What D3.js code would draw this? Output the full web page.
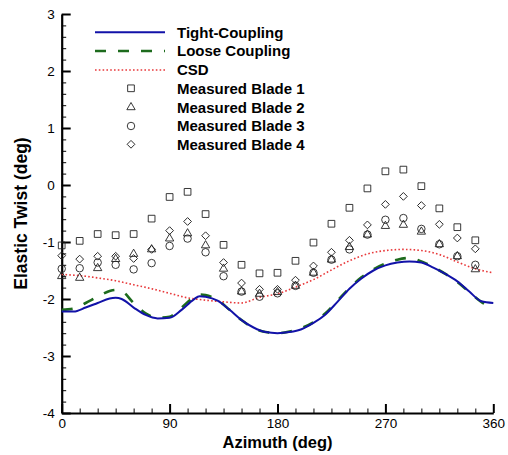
<!DOCTYPE html>
<html><head><meta charset="utf-8">
<script src="https://cdn.jsdelivr.net/npm/d3@7"></script>
<style>body{margin:0;background:#fff}svg{display:block}</style>
</head><body>
<script>
// ---- data ----
const measuredAzimuth = [0,15,30,45,60,75,90,105,120,135,150,165,180,195,210,225,240,255,270,285,300,315,330,345];
const blade1 = [-1.06,-0.98,-0.86,-0.88,-0.86,-0.59,-0.21,-0.12,-0.51,-1.05,-1.40,-1.55,-1.54,-1.33,-1.01,-0.68,-0.40,-0.06,0.24,0.27,-0.02,-0.41,-0.74,-0.97];
const blade2 = [-1.60,-1.63,-1.46,-1.30,-1.21,-1.13,-0.94,-0.85,-1.06,-1.47,-1.87,-1.91,-1.88,-1.77,-1.54,-1.31,-1.09,-0.87,-0.72,-0.70,-0.82,-1.04,-1.25,-1.48];
const blade3 = [-1.47,-1.46,-1.36,-1.40,-1.48,-1.37,-1.07,-0.94,-1.18,-1.60,-1.87,-1.96,-1.90,-1.77,-1.54,-1.31,-1.13,-0.87,-0.61,-0.58,-0.77,-1.04,-1.25,-1.40];
const blade4 = [-1.24,-1.30,-1.25,-1.25,-1.29,-1.13,-0.80,-0.64,-0.89,-1.36,-1.72,-1.83,-1.83,-1.67,-1.42,-1.18,-0.97,-0.70,-0.34,-0.20,-0.36,-0.69,-0.93,-1.12];

const csdAzimuth = [0,15,30,45,60,75,90,105,120,135,150,165,180,195,210,225,240,255,270,285,300,315,330,345,360];
const csd = [-1.57,-1.59,-1.63,-1.68,-1.75,-1.82,-1.90,-1.98,-2.02,-2.05,-2.07,-1.97,-1.91,-1.79,-1.66,-1.49,-1.33,-1.21,-1.15,-1.13,-1.15,-1.22,-1.35,-1.47,-1.54];

const curveAzimuth = [0,10,20,30,40,45,50,60,70,80,90,100,110,115,120,130,140,150,160,170,180,190,200,210,220,230,240,250,260,270,280,290,300,310,320,330,340,350,360];
const tight = [-2.22,-2.22,-2.15,-2.07,-1.99,-1.98,-2.00,-2.15,-2.28,-2.34,-2.33,-2.19,-2.01,-1.95,-1.96,-2.03,-2.19,-2.37,-2.50,-2.58,-2.60,-2.58,-2.53,-2.42,-2.27,-2.05,-1.82,-1.64,-1.50,-1.41,-1.36,-1.34,-1.36,-1.45,-1.56,-1.69,-1.87,-2.04,-2.07];
const loose = [-2.19,-2.17,-2.07,-1.96,-1.86,-1.84,-1.86,-2.07,-2.25,-2.33,-2.31,-2.15,-1.97,-1.92,-1.93,-2.02,-2.19,-2.37,-2.51,-2.58,-2.60,-2.57,-2.51,-2.41,-2.25,-2.03,-1.81,-1.62,-1.48,-1.38,-1.31,-1.28,-1.34,-1.44,-1.56,-1.70,-1.88,-2.05,-2.17];

const xMajorTicks = [0,90,180,270,360];
const yMajorTicks = [-4,-3,-2,-1,0,1,2,3];
const legendLabels = ["Tight-Coupling","Loose Coupling","CSD","Measured Blade 1","Measured Blade 2","Measured Blade 3","Measured Blade 4"];

// ---- chart ----
const W = 508, H = 455;
const svg = d3.select("body").append("svg").attr("width", W).attr("height", H);
const x = d3.scaleLinear().domain([0,360]).range([61.7,493.3]);
const y = d3.scaleLinear().domain([-4,3]).range([413,14]);
const font = "'Liberation Sans', Arial, Helvetica, sans-serif";

// minor ticks
const xMinor = d3.range(0,361,15).filter(v => !xMajorTicks.includes(v));
const yMinor = d3.range(-4,3.001,0.2).map(v => +v.toFixed(1)).filter(v => Math.abs(v - Math.round(v)) > 1e-6);

const gxMinor = svg.append("g").attr("transform",`translate(0,${y(-4)})`)
  .call(d3.axisBottom(x).tickValues(xMinor).tickSizeInner(-4.5).tickSizeOuter(0).tickFormat(""));
const gyMinor = svg.append("g").attr("transform",`translate(${x(0)},0)`)
  .call(d3.axisLeft(y).tickValues(yMinor).tickSizeInner(-4.5).tickSizeOuter(0).tickFormat(""));
[gxMinor, gyMinor].forEach(g => { g.select(".domain").remove(); g.selectAll("line").attr("stroke","#000").attr("stroke-width",1); });

const gx = svg.append("g").attr("transform",`translate(0,${y(-4)})`)
  .call(d3.axisBottom(x).tickValues(xMajorTicks).tickSizeInner(-9).tickSizeOuter(0).tickPadding(5).tickFormat(d3.format("d")));
const gy = svg.append("g").attr("transform",`translate(${x(0)},0)`)
  .call(d3.axisLeft(y).tickValues(yMajorTicks).tickSizeInner(-9).tickSizeOuter(0).tickPadding(7).tickFormat(d => d < 0 ? "-" + Math.abs(d) : String(d)));
[gx, gy].forEach(g => {
  g.select(".domain").attr("stroke","#000").attr("stroke-width",2.2);
  g.selectAll(".tick line").attr("stroke","#000").attr("stroke-width",2);
  g.selectAll("text").attr("font-family",font).attr("font-size","13.5px").attr("fill","#000");
});

// axis titles
svg.append("text").attr("x", (x(0)+x(360))/2).attr("y", 448).attr("text-anchor","middle")
  .attr("font-family",font).attr("font-weight","bold").attr("font-size","16.5px").text("Azimuth (deg)");
svg.append("text").attr("transform",`translate(27,${(y(3)+y(-4))/2}) rotate(-90)`).attr("text-anchor","middle")
  .attr("font-family",font).attr("font-weight","bold").attr("font-size","17.5px").text("Elastic Twist (deg)");

// lines
const line = d3.line().x(d => x(d[0])).y(d => y(d[1])).curve(d3.curveMonotoneX);
const csdPts = csdAzimuth.map((a,i) => [a, csd[i]]);
const tightPts = curveAzimuth.map((a,i) => [a, tight[i]]);
const loosePts = curveAzimuth.map((a,i) => [a, loose[i]]);

const styles = {
  csd: {stroke:"#e8393b", width:1.6, dash:"1.6,2.2"},
  loose: {stroke:"#1d6b1d", width:2.6, dash:"11,12"},
  tight: {stroke:"#1212a8", width:2, dash:null}
};
svg.append("path").datum(csdPts).attr("d", line).attr("fill","none")
  .attr("stroke",styles.csd.stroke).attr("stroke-width",styles.csd.width).attr("stroke-dasharray",styles.csd.dash);

// markers
const markerTypes = [
  {data: blade1, type: d3.symbolSquare, size: 45, rot: 0},
  {data: blade2, type: d3.symbolTriangle, size: 30, rot: 0},
  {data: blade3, type: d3.symbolCircle, size: 44, rot: 0},
  {data: blade4, type: d3.symbolSquare, size: 30, rot: 45}
];
markerTypes.forEach(m => {
  svg.append("g").selectAll("path").data(measuredAzimuth.map((a,i) => [a, m.data[i]])).join("path")
    .attr("d", d3.symbol().type(m.type).size(m.size))
    .attr("transform", d => `translate(${x(d[0])},${y(d[1])}) rotate(${m.rot})`)
    .attr("fill","none").attr("stroke","#222").attr("stroke-width",0.9);
});

svg.append("path").datum(loosePts).attr("d", line).attr("fill","none")
  .attr("stroke",styles.loose.stroke).attr("stroke-width",styles.loose.width).attr("stroke-dasharray",styles.loose.dash);
svg.append("path").datum(tightPts).attr("d", line).attr("fill","none")
  .attr("stroke",styles.tight.stroke).attr("stroke-width",styles.tight.width);

// legend
const legY = [32.3, 51, 70, 88.3, 107.3, 126, 144.3];
const lg = svg.append("g");
const lineStyles = [styles.tight, styles.loose, styles.csd];
lineStyles.forEach((s,i) => {
  lg.append("line").attr("x1",95).attr("x2",165).attr("y1",legY[i]).attr("y2",legY[i])
    .attr("stroke",s.stroke).attr("stroke-width",s.width).attr("stroke-dasharray",s.dash);
});
markerTypes.forEach((m,i) => {
  lg.append("path").attr("d", d3.symbol().type(m.type).size(m.size))
    .attr("transform",`translate(131,${legY[i+3]}) rotate(${m.rot})`)
    .attr("fill","none").attr("stroke","#222").attr("stroke-width",0.9);
});
legendLabels.forEach((t,i) => {
  lg.append("text").attr("x",177).attr("y",legY[i]).attr("dy","0.36em")
    .attr("font-family",font).attr("font-weight","bold").attr("font-size","15px").text(t);
});
</script>
</body></html>
